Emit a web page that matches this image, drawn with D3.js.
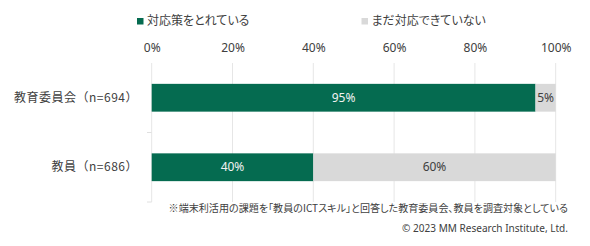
<!DOCTYPE html>
<html><head><meta charset="utf-8">
<script src="https://cdn.jsdelivr.net/npm/d3@7"></script>
<style>
body{margin:0;background:#fff;}
svg{display:block;font-family:"Noto Sans CJK JP","Noto Sans",sans-serif;}
.palt{font-feature-settings:"palt";}
</style></head>
<body><svg id="c" width="590" height="246"></svg>
<script>
const categories = ["教育委員会（n=694）", "教員（n=686）"];
const seriesNames = ["対応策をとれている", "まだ対応できていない"];
const done = [95, 40];
const notYet = [5, 60];
const tickValues = [0, 20, 40, 60, 80, 100];
const footnote = "※端末利活用の課題を「教員のICTスキル」と回答した教育委員会、教員を調査対象としている";
const copyright = "© 2023 MM Research Institute, Ltd.";

const colors = ["#056b50", "#d9d9d9"];
const labelColors = ["#f2f2f2", "#404040"];
const svg = d3.select("#c");
const x = d3.scaleLinear().domain([0, 100]).range([151.7, 555.7]);
const y = d3.scaleBand().domain(categories).range([63, 202]).paddingInner(0.6).paddingOuter(0.3);
const yb = d3.scaleBand().domain(categories).range([63, 202]);

function fitWidth(sel, target, base) {
  const len = sel.node().getComputedTextLength();
  if (len > 0) sel.attr("font-size", base * target / len);
}

// gridlines
svg.append("g").selectAll("line").data(tickValues).join("line")
  .attr("x1", d => x(d)).attr("x2", d => x(d)).attr("y1", 63).attr("y2", 202)
  .attr("stroke", "#e6e6e6").attr("stroke-width", 1);

// category axis ticks
const bounds = categories.map(c => yb(c) + yb.bandwidth());
svg.append("g").selectAll("line").data(bounds).join("line")
  .attr("x1", 147).attr("x2", 151.7).attr("y1", d => d).attr("y2", d => d)
  .attr("stroke", "#e0e0e0");

// top axis labels
const axis = d3.axisTop(x).tickValues(tickValues).tickFormat(d => d + "%").tickSize(0).tickPadding(0);
const ag = svg.append("g").attr("transform", "translate(0,52)").call(axis);
ag.select(".domain").remove();
ag.selectAll("text").attr("font-size", 12).attr("fill", "#404040")
  .attr("font-family", "'Noto Sans','Noto Sans CJK JP',sans-serif");

// stacked bars
const stackData = categories.map((c, i) => ({cat: c, v0: done[i], v1: notYet[i]}));
const stack = d3.stack().keys(["v0", "v1"])(stackData);
stack.forEach((layer, li) => {
  const g = svg.append("g");
  g.selectAll("rect").data(layer).join("rect")
    .attr("x", d => x(d[0])).attr("width", d => x(d[1]) - x(d[0]))
    .attr("y", d => y(d.data.cat)).attr("height", y.bandwidth())
    .attr("fill", colors[li]);
  g.selectAll("text").data(layer).join("text")
    .attr("x", d => (x(d[0]) + x(d[1])) / 2)
    .attr("y", d => y(d.data.cat) + y.bandwidth() / 2)
    .attr("dy", "0.35em").attr("text-anchor", "middle")
    .attr("font-size", 12).attr("fill", labelColors[li])
    .attr("font-family", "'Noto Sans','Noto Sans CJK JP',sans-serif")
    .text(d => (d[1] - d[0]) + "%");
});

// category labels
svg.append("g").selectAll("text").data(categories).join("text")
  .attr("x", 138).attr("y", d => y(d) + y.bandwidth() / 2).attr("dy", "0.35em")
  .attr("text-anchor", "end").attr("font-size", 12).attr("letter-spacing", 0.5).attr("fill", "#404040")
  .text(d => d);

// legend
const legX = [137, 361.5];
const lg = svg.append("g");
seriesNames.forEach((s, i) => {
  lg.append("rect").attr("x", legX[i]).attr("y", 18).attr("width", 6.5).attr("height", 6.5).attr("fill", colors[i]);
  lg.append("text").attr("class", "palt").attr("x", legX[i] + 10).attr("y", 21).attr("dy", "0.35em")
    .attr("font-size", 12).attr("fill", "#404040").text(s);
});

// footnote
const fn = svg.append("text").attr("class", "palt").attr("x", 568).attr("y", 208.5).attr("dy", "0.35em").attr("text-anchor", "end")
  .attr("font-size", 10).attr("fill", "#404040").text(footnote);
fitWidth(fn, 400, 10);
const cp = svg.append("text").attr("x", 568).attr("y", 228.5).attr("dy", "0.35em").attr("text-anchor", "end")
  .attr("font-size", 11).attr("fill", "#404040").attr("font-family", "'Noto Sans',sans-serif")
  .text(copyright);
fitWidth(cp, 166, 11);
</script></body></html>
